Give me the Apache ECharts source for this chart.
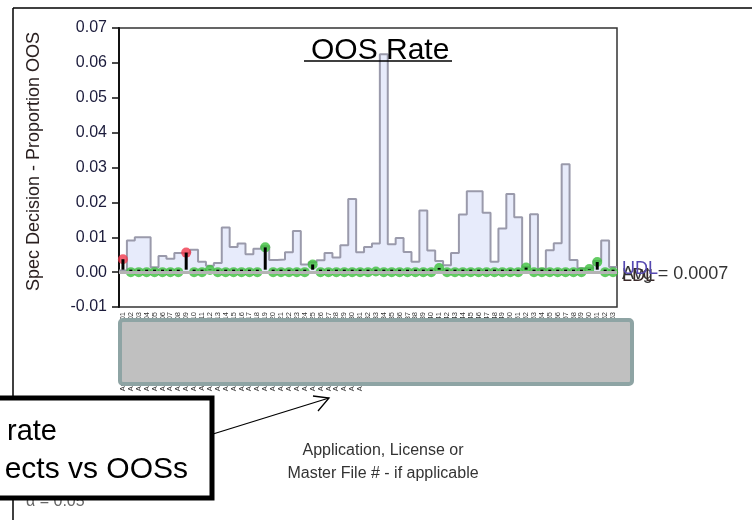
<!DOCTYPE html>
<html>
<head>
<meta charset="utf-8">
<title>OOS Rate</title>
<script src="https://cdn.jsdelivr.net/npm/echarts/dist/echarts.min.js"></script>
<style>
  html, body { margin: 0; padding: 0; background: #fff; }
  #chart { width: 752px; height: 520px; }
</style>
</head>
<body>
<div id="chart"></div>
<script>
// x labels are hidden under the grey box in the source, so these are placeholders
const apps = Array.from({length: 63}, (_, i) => {
  const n = String(i + 1).padStart(2, '0')
  return i <= 30 ? 'Application / License ' + n : 'Master File ' + n
})

// upper decision limit, one level per application
const udl = [
  0.0005, 0.0091, 0.0100, 0.0100, 0.0014, 0.0046, 0.0038, 0.0055, 0.0055, 0.0064,
  0.0030, 0.0018, 0.0026, 0.0128, 0.0072, 0.0082, 0.0051, 0.0067, 0.0074, 0.0035,
  0.0036, 0.0057, 0.0118, 0.0022, 0.0028, 0.0034, 0.0055, 0.0042, 0.0077, 0.0210,
  0.0057, 0.0072, 0.0082, 0.0625, 0.0080, 0.0098, 0.0058, 0.0030, 0.0177, 0.0062,
  0.0032, 0.0020, 0.0055, 0.0165, 0.0232, 0.0232, 0.0170, 0.0030, 0.0125, 0.0224,
  0.0157, 0.0015, 0.0166, 0.0010, 0.0063, 0.0083, 0.0309, 0.0035, 0.0011, 0.0011,
  0.0032, 0.0091, 0.0015
]

// proportion OOS per application
const oos = [
  0.0037, 0, 0, 0, 0, 0, 0, 0, 0.0056, 0,
  0, 0.0006, 0, 0, 0, 0, 0, 0, 0.0071, 0,
  0, 0, 0, 0, 0.0022, 0, 0, 0, 0, 0,
  0, 0, 0.0002, 0, 0, 0, 0, 0, 0, 0,
  0.0012, 0, 0, 0, 0, 0, 0, 0, 0, 0,
  0, 0.0013, 0, 0, 0, 0, 0, 0, 0, 0.0009,
  0.0029, 0, 0
]

const avgValue = 0.0007
const ldlValue = 0
const yTicks = [-0.01, 0.07, 0.01] // min, max, step

const chart = echarts.init(document.getElementById('chart'))

const font = 'Liberation Sans, Arial, sans-serif'
const clear = 'rgba(0,0,0,0)'

const option = {
  animation: false,
  backgroundColor: '#fff',
  title: {
    text: 'OOS Rate',
    left: 306,
    top: 31,
    textStyle: {fontSize: 30, fontWeight: 'normal', color: '#000', fontFamily: font}
  },
  grid: {
    left: 119,
    top: 28,
    width: 498,
    height: 279,
    show: true,
    backgroundColor: '#fff',
    borderColor: '#333',
    borderWidth: 1.5
  },
  xAxis: [
    {
      type: 'category',
      data: apps,
      boundaryGap: true,
      axisLine: {lineStyle: {color: '#333', width: 1.5}},
      axisTick: {show: false},
      axisLabel: {
        interval: 0,
        rotate: 90,
        margin: 5,
        fontSize: 7.5,
        color: '#333',
        fontFamily: font
      }
    },
    {
      type: 'value',
      min: 0,
      max: apps.length,
      show: false
    }
  ],
  yAxis: {
    type: 'value',
    min: yTicks[0],
    max: yTicks[1],
    interval: yTicks[2],
    name: 'Spec Decision - Proportion OOS',
    nameLocation: 'middle',
    nameRotate: 90,
    nameGap: 76,
    nameTextStyle: {fontSize: 18, color: '#2a2020', fontFamily: font, padding: [0, 0, 0, 12]},
    axisLine: {show: true, lineStyle: {color: '#111', width: 2}},
    axisTick: {show: true, length: 7, lineStyle: {color: '#111', width: 1.5}},
    splitLine: {show: false},
    axisLabel: {
      margin: 12,
      fontSize: 16,
      color: '#1b1b3b',
      fontFamily: font,
      formatter: v => v.toFixed(2)
    }
  },
  series: [
    {
      // stepped decision limit with the shaded band
      type: 'line',
      xAxisIndex: 1,
      step: 'end',
      symbol: 'none',
      z: 1,
      data: udl.map((v, i) => [i, v]).concat([[udl.length, udl[udl.length - 1]]]),
      lineStyle: {color: '#9a9aab', width: 2},
      areaStyle: {color: '#e7ebfb', opacity: 1},
      markLine: {
        symbol: 'none',
        silent: true,
        label: {position: 'end', distance: 5, fontSize: 18, fontFamily: font},
        data: [
          {yAxis: ldlValue, lineStyle: {color: '#b4b4b4', width: 3, type: 'solid'},
            label: {formatter: 'LDL', color: '#3a2a2a', offset: [0, 4]}},
          {yAxis: avgValue, lineStyle: {color: clear, width: 1},
            label: {formatter: 'Avg = ' + avgValue, color: '#333', offset: [0, 2]}},
          {yAxis: udl[udl.length - 1], lineStyle: {color: clear, width: 1},
            label: {formatter: 'UDL', color: '#5548b0', offset: [0, -3]}}
        ]
      }
    },
    {
      type: 'scatter',
      symbolSize: 10,
      z: 3,
      data: oos,
      itemStyle: {
        color: p => oos[p.dataIndex] > udl[p.dataIndex] ? '#f0384c' : '#3cbf3c'
      }
    },
    {
      // needles from the average to each point
      type: 'custom',
      z: 4,
      data: oos.map((v, i) => [i, v]),
      renderItem(params, api) {
        const a = api.coord([api.value(0), avgValue])
        const b = api.coord([api.value(0), api.value(1)])
        return {
          type: 'line',
          shape: {x1: a[0], y1: a[1], x2: b[0], y2: b[1]},
          style: {stroke: '#000', lineWidth: 3}
        }
      }
    }
  ],
  graphic: [
    {type: 'line', z: 50, shape: {x1: 13, y1: 8, x2: 752, y2: 8}, style: {stroke: '#000', lineWidth: 1.5}},
    {type: 'line', z: 50, shape: {x1: 13, y1: 8, x2: 13, y2: 520}, style: {stroke: '#000', lineWidth: 1.5}},
    {type: 'line', z: 50, shape: {x1: 304, y1: 61, x2: 452, y2: 61}, style: {stroke: '#000', lineWidth: 1.5}},
    // grey box over the x labels
    {type: 'rect', z: 100, shape: {x: 120, y: 320, width: 512, height: 64, r: 3},
      style: {fill: '#c0c0c0', stroke: '#8ea4a4', lineWidth: 4}},
    {type: 'text', z: 100, x: 383, y: 439,
      style: {text: 'Application, License or\nMaster File # - if applicable', textAlign: 'center',
        fontSize: 16, lineHeight: 23, fill: '#333', fontFamily: 'Liberation Sans Narrow, ' + font}},
    // arrow
    {type: 'polyline', z: 100, shape: {points: [[213, 434], [329, 398]]}, style: {stroke: '#000', lineWidth: 1.3}},
    {type: 'polyline', z: 100, shape: {points: [[313, 396], [329, 398], [318, 411]]}, style: {stroke: '#000', lineWidth: 1.3, fill: null}},
    {type: 'text', z: 100, x: 26, y: 494, style: {text: 'α = 0.05', fontSize: 16, fill: '#666', fontFamily: font}},
    // callout box
    {type: 'rect', z: 101, shape: {x: -6, y: 398, width: 218, height: 100},
      style: {fill: '#fff', stroke: '#000', lineWidth: 5}},
    {type: 'text', z: 102, x: 57, y: 432,
      style: {text: 'rate', textAlign: 'right', textVerticalAlign: 'middle', fontSize: 29, fill: '#000', fontFamily: font}},
    {type: 'text', z: 102, x: 188, y: 470,
      style: {text: 'ects vs OOSs', textAlign: 'right', textVerticalAlign: 'middle', fontSize: 30, fill: '#000', fontFamily: font}}
  ]
}

chart.setOption(option)
</script>
</body>
</html>
